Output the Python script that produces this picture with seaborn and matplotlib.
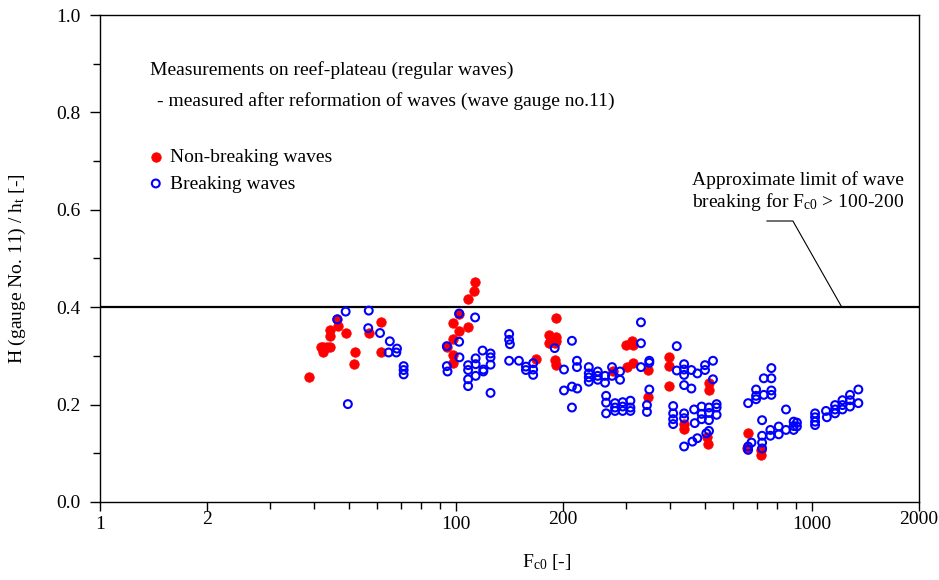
import numpy as np
import pandas as pd
import matplotlib
matplotlib.use("Agg")
import matplotlib.pyplot as plt
import seaborn as sns
from matplotlib.ticker import (FixedLocator, FixedFormatter, LogLocator,
                               NullFormatter, MultipleLocator, FormatStrFormatter)

# ---------------- data ----------------
nonbreak_fc0 = [38.7, 41.7, 42.4, 42.4, 43.4, 44.3, 44.3, 44.3, 46.4, 46.7, 49.1, 51.9, 51.7, 57.0, 61.5, 61.5,
                113.2, 112.7, 107.9, 102.1, 97.9, 102.3, 107.9, 97.9, 94.3, 97.9, 98.4, 168.3,
                182.6, 182.6, 190.6, 190.6, 191.4, 189.4, 189.4, 191.4,
                275.8, 300.5, 312.3, 313.7, 301.8, 313.7, 345.6, 345.6, 397.2, 397.2, 397.2,
                514.0, 514.0, 437.6, 437.6, 508.5, 511.8, 662.2, 657.9, 721.6, 721.6]
nonbreak_h = [0.257, 0.318, 0.318, 0.309, 0.318, 0.318, 0.341, 0.353, 0.375, 0.361, 0.348, 0.309, 0.283, 0.348, 0.370, 0.307,
              0.452, 0.433, 0.416, 0.387, 0.367, 0.352, 0.360, 0.334, 0.319, 0.302, 0.285, 0.293,
              0.343, 0.327, 0.377, 0.339, 0.331, 0.326, 0.292, 0.281,
              0.268, 0.322, 0.331, 0.322, 0.278, 0.286, 0.272, 0.216, 0.297, 0.279, 0.238,
              0.245, 0.229, 0.160, 0.149, 0.134, 0.119, 0.141, 0.110, 0.107, 0.097]

break_fc0 = [46.4, 49.0, 56.9, 56.7, 61.2, 65.2, 64.7, 68.3, 68.0, 71.3, 71.3, 71.3, 49.7,
             102.1, 113.2, 102.1, 94.3, 102.3, 94.3, 94.7, 108.2, 108.2, 108.2, 108.2,
             113.6, 113.6, 113.6, 118.8, 119.4, 119.4, 125.1, 125.1, 125.1, 125.1,
             141.1, 141.1, 141.8, 141.1, 150.3, 157.3, 157.3, 164.8, 164.8, 164.8,
             189.4, 211.8, 201.2, 218.8, 218.8, 211.8, 219.2, 201.2, 211.8,
             236.2, 236.2, 236.2, 236.2, 250.3, 250.3, 250.3, 262.4, 262.4, 274.5, 274.5, 289.1, 289.1,
             264.2, 264.2, 264.2, 279.9, 279.9, 279.9, 294.1, 294.1, 294.1, 309.2, 309.2, 309.2,
             331.0, 331.0, 331.0, 349.4, 349.4, 349.4, 344.1, 344.1,
             417.3, 417.3, 407.7, 407.7, 407.7, 407.7,
             437.6, 437.6, 437.6, 437.6, 458.7, 476.8, 501.0, 501.0, 527.5, 527.5, 458.7,
             437.6, 437.6, 466.9, 468.7, 490.1, 490.1, 490.1, 514.0, 514.0, 514.0, 540.0, 540.0, 540.0,
             461.8, 476.8, 505.2, 514.0, 437.6,
             662.2, 697.2, 697.2, 697.2, 732.8, 732.8, 769.6, 769.6, 769.6, 769.6, 724.7, 846.0,
             662.2, 662.2, 676.6, 724.7, 724.7, 724.7, 764.6, 764.6, 807.1, 807.1, 846.0,
             888.9, 888.9, 888.9, 907.8, 907.8,
             1021, 1021, 1021, 1021, 1096, 1102, 1162, 1162, 1162, 1219, 1219, 1219,
             1280, 1280, 1280, 1351, 1351]
break_h = [0.375, 0.391, 0.393, 0.357, 0.347, 0.330, 0.307, 0.315, 0.307, 0.279, 0.271, 0.262, 0.201,
           0.387, 0.379, 0.329, 0.320, 0.297, 0.279, 0.268, 0.281, 0.271, 0.252, 0.238,
           0.295, 0.283, 0.259, 0.311, 0.272, 0.268, 0.305, 0.297, 0.282, 0.224,
           0.345, 0.333, 0.324, 0.290, 0.290, 0.278, 0.271, 0.285, 0.272, 0.261,
           0.316, 0.331, 0.272, 0.290, 0.277, 0.237, 0.233, 0.229, 0.194,
           0.277, 0.264, 0.256, 0.247, 0.268, 0.259, 0.251, 0.259, 0.245, 0.277, 0.259, 0.268, 0.251,
           0.218, 0.204, 0.182, 0.203, 0.194, 0.187, 0.205, 0.196, 0.187, 0.208, 0.194, 0.187,
           0.369, 0.326, 0.277, 0.290, 0.286, 0.231, 0.199, 0.185,
           0.320, 0.270, 0.197, 0.182, 0.170, 0.160,
           0.283, 0.272, 0.261, 0.240, 0.271, 0.264, 0.281, 0.271, 0.290, 0.252, 0.233,
           0.182, 0.172, 0.190, 0.162, 0.196, 0.181, 0.170, 0.194, 0.183, 0.168, 0.201, 0.194, 0.179,
           0.124, 0.131, 0.141, 0.146, 0.114,
           0.203, 0.231, 0.218, 0.211, 0.254, 0.220, 0.275, 0.254, 0.229, 0.220, 0.168, 0.190,
           0.114, 0.107, 0.122, 0.136, 0.122, 0.110, 0.148, 0.136, 0.155, 0.139, 0.148,
           0.165, 0.156, 0.148, 0.163, 0.155,
           0.182, 0.174, 0.165, 0.158, 0.187, 0.174, 0.199, 0.190, 0.182, 0.209, 0.199, 0.190,
           0.220, 0.209, 0.196, 0.231, 0.203]

x_ticks = [10, 20, 100, 200, 1000, 2000]
x_tick_labels = ["1", "2", "100", "200", "1000", "2000"]
y_ticks = [0.0, 0.2, 0.4, 0.6, 0.8, 1.0]
limit_h = 0.4
leader_x = [747, 884.5, 1214]
leader_y = [0.577, 0.577, 0.4]

# ---------------- style ----------------
sns.set_style("ticks")
plt.rcParams['font.family'] = ['Liberation Serif', 'DejaVu Serif']
plt.rcParams['mathtext.fontset'] = 'custom'
plt.rcParams['mathtext.rm'] = 'Liberation Serif'
plt.rcParams['mathtext.it'] = 'Liberation Serif:italic'
for k in ['axes.edgecolor', 'xtick.color', 'ytick.color', 'text.color', 'axes.labelcolor']:
    plt.rcParams[k] = 'black'

fig = plt.figure(figsize=(9.39, 5.80), dpi=100)
ax = fig.add_axes([100/939, 1 - 502/580, 819/939, 487/580])

df_nb = pd.DataFrame({"Fc0": nonbreak_fc0, "H": nonbreak_h})
df_b = pd.DataFrame({"Fc0": break_fc0, "H": break_h})

sns.scatterplot(data=df_nb, x="Fc0", y="H", ax=ax, color="#ff0000", edgecolor="#ff0000",
                linewidth=0.6, s=46, label="Non-breaking waves", zorder=3)
sns.scatterplot(data=df_b, x="Fc0", y="H", ax=ax, facecolor="none", edgecolor="#0000ff",
                linewidth=1.5, s=32, label="Breaking waves", zorder=4)

ax.axhline(limit_h, color='black', lw=1.6, zorder=2)
ax.plot(leader_x, leader_y, color='black', lw=0.8, zorder=2)

ax.set_xscale('log')
ax.set_xlim(10, 2000)
ax.set_ylim(0, 1)

ax.xaxis.set_major_locator(FixedLocator(x_ticks))
ax.xaxis.set_major_formatter(FixedFormatter(x_tick_labels))
ax.xaxis.set_minor_locator(LogLocator(base=10, subs=np.arange(2, 10)))
ax.xaxis.set_minor_formatter(NullFormatter())
ax.yaxis.set_major_locator(FixedLocator(y_ticks))
ax.yaxis.set_major_formatter(FormatStrFormatter('%.1f'))
ax.yaxis.set_minor_locator(MultipleLocator(0.1))

ax.tick_params(axis='x', which='major', direction='out', length=6.5, width=1, pad=3.5,
               labelsize=14, top=False)
ax.tick_params(axis='x', which='minor', direction='out', length=5, width=1, top=False)
ax.tick_params(axis='y', which='major', direction='out', length=7, width=1, pad=7,
               labelsize=14, right=False)
ax.tick_params(axis='y', which='minor', direction='out', length=5, width=1, right=False)
for t, v in zip(ax.xaxis.get_major_ticks(), x_ticks):
    if str(v).startswith('2'):
        t.set_pad(0.0)

for sp in ax.spines.values():
    sp.set_visible(True)
    sp.set_linewidth(1.0)
    sp.set_color('black')

ax.set_xlabel(r"F$_\mathregular{c0}$ [-]", fontsize=14)
ax.xaxis.set_label_coords(0.545, -0.103)
ax.set_ylabel(r"H (gauge No. 11) / h$_\mathregular{t}$ [-]", fontsize=14)
ax.yaxis.set_label_coords(-0.088, 0.48)

ax.text((150-100)/819, (502-70)/487, "Measurements on reef-plateau (regular waves)",
        transform=ax.transAxes, fontsize=14, ha='left', va='center')
ax.text((157-100)/819, (502-101)/487, "- measured after reformation of waves (wave gauge no.11)",
        transform=ax.transAxes, fontsize=14, ha='left', va='center')
ax.text((798-100)/819, (502-180)/487, "Approximate limit of wave",
        transform=ax.transAxes, fontsize=14, ha='center', va='center')
ax.text((798-100)/819, (502-202)/487, r"breaking for F$_\mathregular{c0}$ > 100-200",
        transform=ax.transAxes, fontsize=14, ha='center', va='center')

ax.legend(loc='upper left', bbox_to_anchor=(148.0/939, 1 - 148.0/580),
          bbox_transform=fig.transFigure, frameon=False, fontsize=14,
          handlelength=0.8, handletextpad=0.35, labelspacing=0.48,
          borderpad=0, borderaxespad=0)

fig.savefig("out.png", dpi=100)
